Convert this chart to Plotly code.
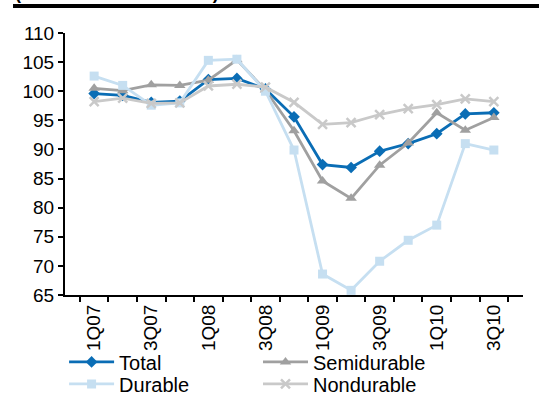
import plotly.graph_objects as go

quarters = ["1Q07", "2Q07", "3Q07", "4Q07", "1Q08", "2Q08", "3Q08", "4Q08",
            "1Q09", "2Q09", "3Q09", "4Q09", "1Q10", "2Q10", "3Q10"]
tick_labels = [q if i % 2 == 0 else "" for i, q in enumerate(quarters)]

total = [99.6, 99.3, 98.1, 98.3, 102.0, 102.2, 100.4, 95.6, 87.4, 86.9, 89.7, 91.0, 92.7, 96.1, 96.3]
semidurable = [100.5, 100.1, 101.1, 101.0, 101.9, 105.4, 100.2, 93.2, 84.6, 81.6, 87.3, 91.1, 96.3, 93.3, 95.5]
durable = [102.6, 101.0, 97.6, 98.0, 105.3, 105.5, 100.0, 89.9, 68.6, 65.8, 70.8, 74.4, 77.0, 91.0, 89.9]
nondurable = [98.2, 98.8, 97.9, 98.0, 100.9, 101.2, 100.7, 98.1, 94.3, 94.6, 96.0, 97.0, 97.7, 98.7, 98.2]

# name, values, colour, symbol, size, legend id
series = [
    ("Total", total, "#0A6DB5", "diamond", 9, "legend"),
    ("Semidurable", semidurable, "#A0A0A0", "triangle-up", 10, "legend2"),
    ("Durable", durable, "#C6DFF1", "square", 9, "legend3"),
    ("Nondurable", nondurable, "#C9C9C9", "x-thin", 9, "legend4"),
]

fig = go.Figure()
for name, vals, color, sym, size, leg in series:
    mk = dict(symbol=sym, size=size, color=color)
    if sym == "x-thin":
        mk["line"] = dict(color=color, width=2.5)
    fig.add_trace(go.Scatter(
        x=quarters, y=vals, name=name, mode="lines+markers",
        line=dict(color=color, width=2.8), marker=mk, legend=leg,
    ))

font = "Arial, Liberation Sans, sans-serif"


def leg(x, y):
    return dict(orientation="v", x=x, xanchor="left", y=y, yanchor="top",
                itemwidth=45, font=dict(size=20), bgcolor="rgba(0,0,0,0)")


fig.update_layout(
    width=539, height=395,
    margin=dict(l=65, r=16, t=33, b=100, autoexpand=False),
    paper_bgcolor="white", plot_bgcolor="white",
    font=dict(family=font, size=19, color="black"),
    showlegend=True,
    legend=leg(-0.002, -0.181),
    legend2=leg(0.4214, -0.181),
    legend3=leg(-0.002, -0.265),
    legend4=leg(0.4214, -0.265),
    xaxis=dict(
        type="category", tickmode="array", tickvals=quarters, ticktext=tick_labels,
        tickson="boundaries", ticks="outside", ticklen=5, tickwidth=1.5, tickcolor="black",
        showline=True, linecolor="black", linewidth=2, showgrid=False, zeroline=False,
        tickangle=-90, tickfont=dict(size=19),
    ),
    yaxis=dict(
        range=[65, 110], dtick=5, tick0=65, ticks="outside", ticklen=5, tickwidth=1.5,
        tickcolor="black", showline=True, linecolor="black", linewidth=2,
        showgrid=False, zeroline=False, tickfont=dict(size=19),
    ),
    shapes=[dict(type="line", xref="paper", yref="paper",
                 x0=-0.1135, x1=1.04, y0=1.103, y1=1.103,
                 line=dict(color="black", width=4))],
    annotations=[dict(text="<b>(Total retail sales index)</b>", xref="paper", yref="paper",
                      x=-0.1135, y=1.107, xanchor="left", yanchor="bottom",
                      showarrow=False, font=dict(size=18, family=font))],
)

fig.write_html("out.html")
